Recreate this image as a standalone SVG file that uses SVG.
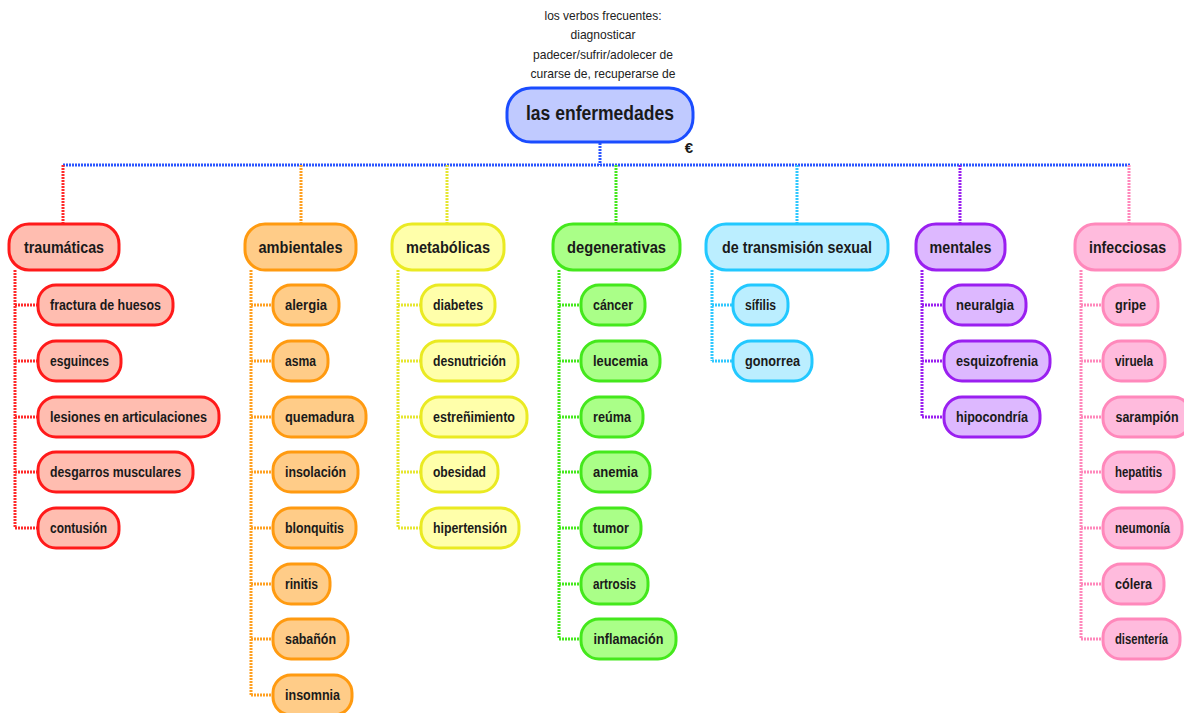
<svg xmlns="http://www.w3.org/2000/svg" width="1184" height="713" viewBox="0 0 1184 713">
  <style>
    text { font-family: "Liberation Sans", Arial, sans-serif; fill: #1a1a1a; }
    .note { font-size: 13px; text-anchor: middle; fill: #222; }
    .root-label { font-size: 20px; font-weight: bold; text-anchor: middle; }
    .cat-label { font-size: 16px; font-weight: bold; text-anchor: middle; }
    .leaf-label { font-size: 14px; font-weight: bold; text-anchor: middle; }
    .box { stroke-width: 3; }
    .link { fill: none; stroke-width: 3; stroke-dasharray: 2 1; }
    .red .box { fill: #ffbdb0; stroke: #ff1a1a; }
    .orange .box { fill: #ffcc88; stroke: #ff9a10; }
    .yellow .box { fill: #ffffaa; stroke: #eaea22; }
    .green .box { fill: #aaff88; stroke: #44e81c; }
    .cyan .box { fill: #bbeeff; stroke: #22c8ff; }
    .purple .box { fill: #ddb8ff; stroke: #9a1ff0; }
    .pink .box { fill: #ffbbdd; stroke: #ff88bb; }
  </style>

  <!-- note above the root -->
  <g id="note">
    <text class="note" x="603" y="20" textLength="117" lengthAdjust="spacingAndGlyphs">los verbos frecuentes:</text>
    <text class="note" x="603" y="39" textLength="65" lengthAdjust="spacingAndGlyphs">diagnosticar</text>
    <text class="note" x="603" y="59" textLength="140" lengthAdjust="spacingAndGlyphs">padecer/sufrir/adolecer de</text>
    <text class="note" x="603" y="78" textLength="145" lengthAdjust="spacingAndGlyphs">curarse de, recuperarse de</text>
  </g>

  <!-- connectors -->
  <g id="connectors">
    <path class="link" stroke="#2a55ff" d="M600 143 V165 M63 165 H1130"/>
    <path class="link" stroke="#ff2a2a" d="M63 165 V224"/>
    <path class="link" stroke="#ffa020" d="M301 165 V224"/>
    <path class="link" stroke="#e6e630" d="M447 165 V224"/>
    <path class="link" stroke="#44e81c" d="M616 165 V224"/>
    <path class="link" stroke="#30c8ff" d="M797 165 V224"/>
    <path class="link" stroke="#9a1ff0" d="M960 165 V224"/>
    <path class="link" stroke="#ff88bb" d="M1129 165 V224"/>

    <path class="link" stroke="#ff2a2a" d="M15 270 V528 M15 305 H38 M15 361 H38 M15 417 H38 M15 472 H38 M15 528 H38"/>
    <path class="link" stroke="#ffa020" d="M251 270 V695 M251 305 H273 M251 361 H273 M251 417 H273 M251 472 H273 M251 528 H273 M251 584 H273 M251 639 H273 M251 695 H273"/>
    <path class="link" stroke="#e6e630" d="M398 270 V528 M398 305 H421 M398 361 H421 M398 417 H421 M398 472 H421 M398 528 H421"/>
    <path class="link" stroke="#44e81c" d="M559 270 V639 M559 305 H581 M559 361 H581 M559 417 H581 M559 472 H581 M559 528 H581 M559 584 H581 M559 639 H581"/>
    <path class="link" stroke="#30c8ff" d="M712 270 V361 M712 305 H733 M712 361 H733"/>
    <path class="link" stroke="#9a1ff0" d="M922 270 V417 M922 305 H944 M922 361 H944 M922 417 H944"/>
    <path class="link" stroke="#ff88bb" d="M1081 270 V639 M1081 305 H1103 M1081 361 H1103 M1081 417 H1103 M1081 472 H1103 M1081 528 H1103 M1081 584 H1103 M1081 639 H1103"/>
  </g>

  <!-- root -->
  <g id="root">
    <rect x="507" y="88" width="186" height="54" rx="24" fill="#c0caff" stroke="#1a4cff" stroke-width="3"/>
    <text class="root-label" x="600" y="120" textLength="148" lengthAdjust="spacingAndGlyphs">las enfermedades</text>
    <text x="689" y="153" font-size="15" font-weight="bold" text-anchor="middle" fill="#333">€</text>
  </g>

  <!-- traumáticas -->
  <g id="traumaticas" class="red">
    <rect class="box" x="9" y="224" width="110" height="46" rx="20"/>
    <text class="cat-label" x="64" y="253" textLength="80" lengthAdjust="spacingAndGlyphs">traumáticas</text>
  </g>
  <g id="fractura" class="red"><rect class="box" x="38" y="285" width="135" height="40" rx="18"/><text class="leaf-label" x="105.5" y="310" textLength="111" lengthAdjust="spacingAndGlyphs">fractura de huesos</text></g>
  <g id="esguinces" class="red"><rect class="box" x="38" y="341" width="83" height="40" rx="18"/><text class="leaf-label" x="79.5" y="366" textLength="59" lengthAdjust="spacingAndGlyphs">esguinces</text></g>
  <g id="lesiones" class="red"><rect class="box" x="38" y="397" width="181" height="40" rx="18"/><text class="leaf-label" x="128.5" y="422" textLength="157" lengthAdjust="spacingAndGlyphs">lesiones en articulaciones</text></g>
  <g id="desgarros" class="red"><rect class="box" x="38" y="452" width="155" height="40" rx="18"/><text class="leaf-label" x="115.5" y="477" textLength="131" lengthAdjust="spacingAndGlyphs">desgarros musculares</text></g>
  <g id="contusion" class="red"><rect class="box" x="38" y="508" width="81" height="40" rx="18"/><text class="leaf-label" x="78.5" y="533" textLength="57" lengthAdjust="spacingAndGlyphs">contusión</text></g>

  <!-- ambientales -->
  <g id="ambientales" class="orange">
    <rect class="box" x="245" y="224" width="111" height="46" rx="20"/>
    <text class="cat-label" x="300.5" y="253" textLength="84" lengthAdjust="spacingAndGlyphs">ambientales</text>
  </g>
  <g id="alergia" class="orange"><rect class="box" x="273" y="285" width="66" height="40" rx="18"/><text class="leaf-label" x="306" y="310" textLength="42" lengthAdjust="spacingAndGlyphs">alergia</text></g>
  <g id="asma" class="orange"><rect class="box" x="273" y="341" width="55" height="40" rx="18"/><text class="leaf-label" x="300.5" y="366" textLength="31" lengthAdjust="spacingAndGlyphs">asma</text></g>
  <g id="quemadura" class="orange"><rect class="box" x="273" y="397" width="93" height="40" rx="18"/><text class="leaf-label" x="319.5" y="422" textLength="69" lengthAdjust="spacingAndGlyphs">quemadura</text></g>
  <g id="insolacion" class="orange"><rect class="box" x="273" y="452" width="85" height="40" rx="18"/><text class="leaf-label" x="315.5" y="477" textLength="61" lengthAdjust="spacingAndGlyphs">insolación</text></g>
  <g id="blonquitis" class="orange"><rect class="box" x="273" y="508" width="83" height="40" rx="18"/><text class="leaf-label" x="314.5" y="533" textLength="59" lengthAdjust="spacingAndGlyphs">blonquitis</text></g>
  <g id="rinitis" class="orange"><rect class="box" x="273" y="564" width="57" height="40" rx="18"/><text class="leaf-label" x="301.5" y="589" textLength="33" lengthAdjust="spacingAndGlyphs">rinitis</text></g>
  <g id="sabanon" class="orange"><rect class="box" x="273" y="619" width="75" height="40" rx="18"/><text class="leaf-label" x="310.5" y="644" textLength="51" lengthAdjust="spacingAndGlyphs">sabañón</text></g>
  <g id="insomnia" class="orange"><rect class="box" x="273" y="675" width="79" height="40" rx="18"/><text class="leaf-label" x="312.5" y="700" textLength="55" lengthAdjust="spacingAndGlyphs">insomnia</text></g>

  <!-- metabólicas -->
  <g id="metabolicas" class="yellow">
    <rect class="box" x="392" y="224" width="112" height="46" rx="20"/>
    <text class="cat-label" x="448" y="253" textLength="84" lengthAdjust="spacingAndGlyphs">metabólicas</text>
  </g>
  <g id="diabetes" class="yellow"><rect class="box" x="421" y="285" width="74" height="40" rx="18"/><text class="leaf-label" x="458" y="310" textLength="50" lengthAdjust="spacingAndGlyphs">diabetes</text></g>
  <g id="desnutricion" class="yellow"><rect class="box" x="421" y="341" width="97" height="40" rx="18"/><text class="leaf-label" x="469.5" y="366" textLength="73" lengthAdjust="spacingAndGlyphs">desnutrición</text></g>
  <g id="estrenimiento" class="yellow"><rect class="box" x="421" y="397" width="106" height="40" rx="18"/><text class="leaf-label" x="474" y="422" textLength="82" lengthAdjust="spacingAndGlyphs">estreñimiento</text></g>
  <g id="obesidad" class="yellow"><rect class="box" x="421" y="452" width="77" height="40" rx="18"/><text class="leaf-label" x="459.5" y="477" textLength="53" lengthAdjust="spacingAndGlyphs">obesidad</text></g>
  <g id="hipertension" class="yellow"><rect class="box" x="421" y="508" width="98" height="40" rx="18"/><text class="leaf-label" x="470" y="533" textLength="74" lengthAdjust="spacingAndGlyphs">hipertensión</text></g>

  <!-- degenerativas -->
  <g id="degenerativas" class="green">
    <rect class="box" x="553" y="224" width="127" height="46" rx="20"/>
    <text class="cat-label" x="616.5" y="253" textLength="99" lengthAdjust="spacingAndGlyphs">degenerativas</text>
  </g>
  <g id="cancer" class="green"><rect class="box" x="581" y="285" width="64" height="40" rx="18"/><text class="leaf-label" x="613" y="310" textLength="40" lengthAdjust="spacingAndGlyphs">cáncer</text></g>
  <g id="leucemia" class="green"><rect class="box" x="581" y="341" width="79" height="40" rx="18"/><text class="leaf-label" x="620.5" y="366" textLength="55" lengthAdjust="spacingAndGlyphs">leucemia</text></g>
  <g id="reuma" class="green"><rect class="box" x="581" y="397" width="62" height="40" rx="18"/><text class="leaf-label" x="612" y="422" textLength="38" lengthAdjust="spacingAndGlyphs">reúma</text></g>
  <g id="anemia" class="green"><rect class="box" x="581" y="452" width="69" height="40" rx="18"/><text class="leaf-label" x="615.5" y="477" textLength="45" lengthAdjust="spacingAndGlyphs">anemia</text></g>
  <g id="tumor" class="green"><rect class="box" x="581" y="508" width="60" height="40" rx="18"/><text class="leaf-label" x="611" y="533" textLength="36" lengthAdjust="spacingAndGlyphs">tumor</text></g>
  <g id="artrosis" class="green"><rect class="box" x="581" y="564" width="67" height="40" rx="18"/><text class="leaf-label" x="614.5" y="589" textLength="43" lengthAdjust="spacingAndGlyphs">artrosis</text></g>
  <g id="inflamacion" class="green"><rect class="box" x="581" y="619" width="95" height="40" rx="18"/><text class="leaf-label" x="628.5" y="644" textLength="70" lengthAdjust="spacingAndGlyphs">inflamación</text></g>

  <!-- de transmisión sexual -->
  <g id="transmision-sexual" class="cyan">
    <rect class="box" x="706" y="224" width="182" height="46" rx="20"/>
    <text class="cat-label" x="797" y="253" textLength="150" lengthAdjust="spacingAndGlyphs">de transmisión sexual</text>
  </g>
  <g id="sifilis" class="cyan"><rect class="box" x="733" y="285" width="55" height="40" rx="18"/><text class="leaf-label" x="760.5" y="310" textLength="31" lengthAdjust="spacingAndGlyphs">sífilis</text></g>
  <g id="gonorrea" class="cyan"><rect class="box" x="733" y="341" width="79" height="40" rx="18"/><text class="leaf-label" x="772.5" y="366" textLength="55" lengthAdjust="spacingAndGlyphs">gonorrea</text></g>

  <!-- mentales -->
  <g id="mentales" class="purple">
    <rect class="box" x="916" y="224" width="89" height="46" rx="20"/>
    <text class="cat-label" x="960.5" y="253" textLength="62" lengthAdjust="spacingAndGlyphs">mentales</text>
  </g>
  <g id="neuralgia" class="purple"><rect class="box" x="944" y="285" width="82" height="40" rx="18"/><text class="leaf-label" x="985" y="310" textLength="58" lengthAdjust="spacingAndGlyphs">neuralgia</text></g>
  <g id="esquizofrenia" class="purple"><rect class="box" x="944" y="341" width="106" height="40" rx="18"/><text class="leaf-label" x="997" y="366" textLength="82" lengthAdjust="spacingAndGlyphs">esquizofrenia</text></g>
  <g id="hipocondria" class="purple"><rect class="box" x="944" y="397" width="96" height="40" rx="18"/><text class="leaf-label" x="992" y="422" textLength="72" lengthAdjust="spacingAndGlyphs">hipocondría</text></g>

  <!-- infecciosas -->
  <g id="infecciosas" class="pink">
    <rect class="box" x="1075" y="224" width="105" height="46" rx="20"/>
    <text class="cat-label" x="1127.5" y="253" textLength="77" lengthAdjust="spacingAndGlyphs">infecciosas</text>
  </g>
  <g id="gripe" class="pink"><rect class="box" x="1103" y="285" width="55" height="40" rx="18"/><text class="leaf-label" x="1130.5" y="310" textLength="31" lengthAdjust="spacingAndGlyphs">gripe</text></g>
  <g id="viruela" class="pink"><rect class="box" x="1103" y="341" width="62" height="40" rx="18"/><text class="leaf-label" x="1134" y="366" textLength="38" lengthAdjust="spacingAndGlyphs">viruela</text></g>
  <g id="sarampion" class="pink"><rect class="box" x="1103" y="397" width="88" height="40" rx="18"/><text class="leaf-label" x="1147" y="422" textLength="63" lengthAdjust="spacingAndGlyphs">sarampión</text></g>
  <g id="hepatitis" class="pink"><rect class="box" x="1103" y="452" width="71" height="40" rx="18"/><text class="leaf-label" x="1138.5" y="477" textLength="47" lengthAdjust="spacingAndGlyphs">hepatitis</text></g>
  <g id="neumonia" class="pink"><rect class="box" x="1103" y="508" width="79" height="40" rx="18"/><text class="leaf-label" x="1142.5" y="533" textLength="55" lengthAdjust="spacingAndGlyphs">neumonía</text></g>
  <g id="colera" class="pink"><rect class="box" x="1103" y="564" width="61" height="40" rx="18"/><text class="leaf-label" x="1133.5" y="589" textLength="37" lengthAdjust="spacingAndGlyphs">cólera</text></g>
  <g id="disenteria" class="pink"><rect class="box" x="1103" y="619" width="77" height="40" rx="18"/><text class="leaf-label" x="1141.5" y="644" textLength="53" lengthAdjust="spacingAndGlyphs">disentería</text></g>
</svg>
